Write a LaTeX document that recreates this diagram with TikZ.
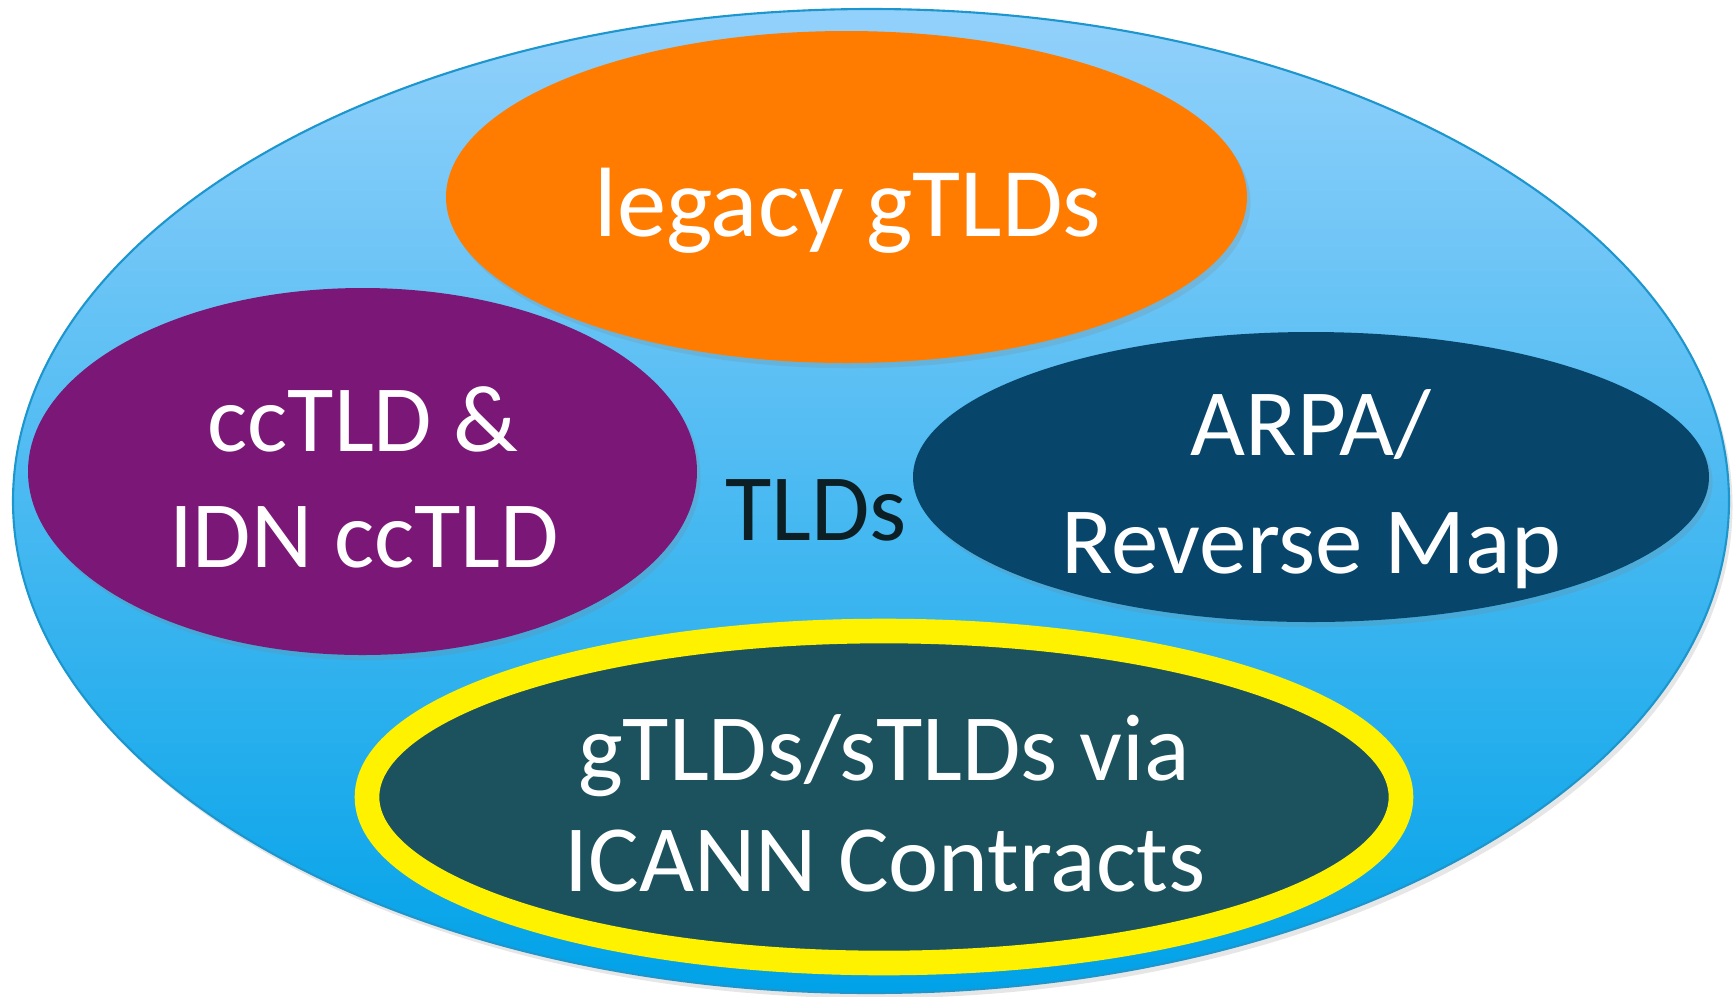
\documentclass[tikz,border=0pt]{standalone}
\usepackage{fontspec}
\setmainfont{Carlito}
\usetikzlibrary{shadows}

\definecolor{skytop}{HTML}{93D1FB}
\definecolor{skybot}{HTML}{00A2E8}
\definecolor{skyline}{HTML}{1C96CC}
\definecolor{legacyorange}{HTML}{FF7C00}
\definecolor{ccpurple}{HTML}{7B1877}
\definecolor{arpablue}{HTML}{08456B}
\definecolor{icannteal}{HTML}{1B525E}
\definecolor{tldtext}{HTML}{0B1F24}

\begin{document}
\begin{tikzpicture}[x=0.01cm,y=-0.01cm,
    tldlabel/.style={text=white,anchor=base,inner sep=0pt,
      font=\fontsize{27pt}{33pt}\selectfont},
    softshadow/.style={drop shadow={opacity=0.2,shadow xshift=1pt,shadow yshift=-1.5pt}}
  ]
    \useasboundingbox (0,0) rectangle (1735,996);
    % Outer set of all TLDs
    \shade[top color=skytop,bottom color=skybot,draw=skyline,line width=0.6pt,softshadow]
      (871,501) ellipse [x radius=858, y radius=492];
    % Inner sets
    \fill[legacyorange,softshadow] (846.5,197) ellipse [x radius=400.5, y radius=166];
    \fill[ccpurple,softshadow] (362.5,471.5) ellipse [x radius=334.5, y radius=183.5];
    \fill[arpablue,softshadow] (1311,477) ellipse [x radius=398, y radius=145];
    \filldraw[fill=icannteal,draw=yellow,line width=7pt,softshadow]
      (884,797) ellipse [x radius=517, y radius=166];
    % Labelling the sets
    \node[tldlabel,font=\fontsize{28pt}{34pt}\selectfont] (legacy) at (848,236) {legacy gTLDs};
    \node[tldlabel] (cctld) at (363,451) {ccTLD \&};
    \node[tldlabel] (idn) at (364,567) {IDN ccTLD};
    \node[tldlabel,text=tldtext] (tlds) at (816,540) {TLDs};
    \node[tldlabel] (arpa) at (1311,455) {ARPA/};
    \node[tldlabel] (reverse) at (1311,573) {Reverse Map};
    \node[tldlabel] (gtlds) at (884,780) {gTLDs/sTLDs via};
    \node[tldlabel] (icann) at (885,891) {ICANN Contracts};
  \end{tikzpicture}
\end{document}
